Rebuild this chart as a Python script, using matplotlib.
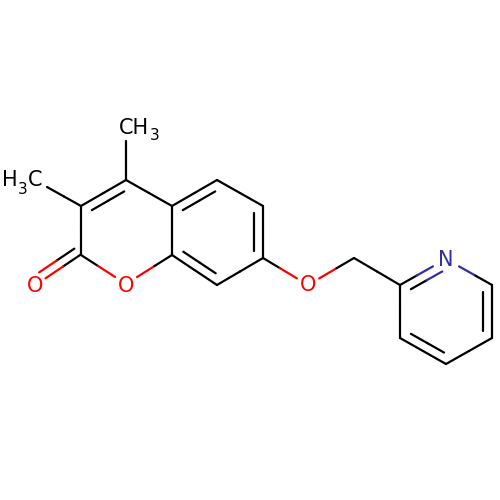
import numpy as np
import matplotlib
matplotlib.use('Agg')
import matplotlib.pyplot as plt

# atom positions
atom_names = ['Me4', 'C4', 'Me3', 'C3', 'C2', 'Oc', 'O1', 'C8a', 'C4a', 'C5', 'C6', 'C7', 'C8',
              'Oe', 'CH2', 'C2p', 'N', 'C6p', 'C5p', 'C4p', 'C3p']
atom_x = [126, 126, 47, 81, 81, 35, 126, 172, 172, 217, 263, 263, 217,
          308, 354, 400, 446, 492, 492, 446, 400]
atom_y = [141, 180, 187, 206, 255, 286, 284, 255, 206, 180, 206, 258, 285,
          285, 258, 285, 259, 285, 338, 364, 338]
pos = {n: np.array([x, y], dtype=float) for n, x, y in zip(atom_names, atom_x, atom_y)}

single_bonds = [('Me4', 'C4'), ('Me3', 'C3'), ('C3', 'C2'), ('C2', 'O1'), ('O1', 'C8a'),
                ('C4', 'C4a'), ('C5', 'C6'), ('C7', 'C8'), ('C7', 'Oe'), ('Oe', 'CH2'),
                ('CH2', 'C2p'), ('C2p', 'C3p'), ('N', 'C6p'), ('C5p', 'C4p'), ('C8a', 'C4a')]
# ring double bonds, with the ring whose centre the inner line leans to
ring_doubles = [('C3', 'C4', 'pyranone'), ('C4a', 'C5', 'benzene'), ('C6', 'C7', 'benzene'),
                ('C8', 'C8a', 'benzene'), ('C2p', 'N', 'pyridine'), ('C6p', 'C5p', 'pyridine'),
                ('C4p', 'C3p', 'pyridine')]
ring_centres = {'pyranone': (126, 230), 'benzene': (217, 232), 'pyridine': (446, 311)}

colours = {'Oc': '#ff0000', 'O1': '#ff0000', 'Oe': '#ff0000', 'N': '#2f2f9f'}
trim = {'Oc': 13, 'O1': 13, 'Oe': 13, 'N': 15}
LW = 1.6


def draw_line(ax, p, q, a, b, cut=None):
    # cut the end at a labelled atom, then split what is left in two colours
    start, end = p.copy(), q.copy()
    u = (q - p) / np.linalg.norm(q - p)
    if a in trim:
        start = p + u * (cut if cut is not None else trim[a])
    if b in trim:
        end = q - u * (cut if cut is not None else trim[b])
    mid = (start + end) / 2
    ax.plot([start[0], mid[0]], [start[1], mid[1]], color=colours.get(a, 'black'),
            lw=LW, solid_capstyle='round')
    ax.plot([mid[0], end[0]], [mid[1], end[1]], color=colours.get(b, 'black'),
            lw=LW, solid_capstyle='round')


fig = plt.figure(figsize=(5, 5), dpi=100)
ax = fig.add_axes([0, 0, 1, 1])
ax.set_xlim(0, 500)
ax.set_ylim(500, 0)
ax.axis('off')

for a, b in single_bonds:
    draw_line(ax, pos[a], pos[b], a, b)

for a, b, ring in ring_doubles:
    p, q = pos[a], pos[b]
    draw_line(ax, p, q, a, b)
    # inner line
    centre = np.array(ring_centres[ring], dtype=float)
    u = (q - p) / np.linalg.norm(q - p)
    n = np.array([-u[1], u[0]])
    if np.dot(centre - (p + q) / 2, n) < 0:
        n = -n
    off = n * 9
    ln = np.linalg.norm(q - p)
    draw_line(ax, p + off + u * 0.14 * ln, q + off - u * 0.14 * ln, a, b, cut=2)

# carbonyl, two parallel lines
c2 = pos['C2']
oc = pos['Oc']
u = (oc - c2) / np.linalg.norm(oc - c2)
n = np.array([-u[1], u[0]])
for start in [c2 + n * 0.5, c2 + n * 9 + u * 2]:
    draw_line(ax, start, oc + (start - c2), 'C2', 'Oc')

# atom labels
plt.rcParams['font.family'] = 'DejaVu Sans'
lab = dict(ha='center', va='center', fontsize=15)
ax.text(35, 286, 'O', color='#ff0000', **lab)
ax.text(126, 286, 'O', color='#ff0000', **lab)
ax.text(308, 285, 'O', color='#ff0000', **lab)
ax.text(446, 260, 'N', color='#2f2f9f', **lab)
ax.text(133.5, 127.5, 'CH', color='black', **lab)
ax.text(155, 136, '3', color='black', ha='center', va='center', fontsize=11)
ax.text(10, 180.5, 'H', color='black', **lab)
ax.text(23, 189, '3', color='black', ha='center', va='center', fontsize=11)
ax.text(35, 180.5, 'C', color='black', **lab)

fig.savefig('out.png', dpi=100, facecolor='white')
